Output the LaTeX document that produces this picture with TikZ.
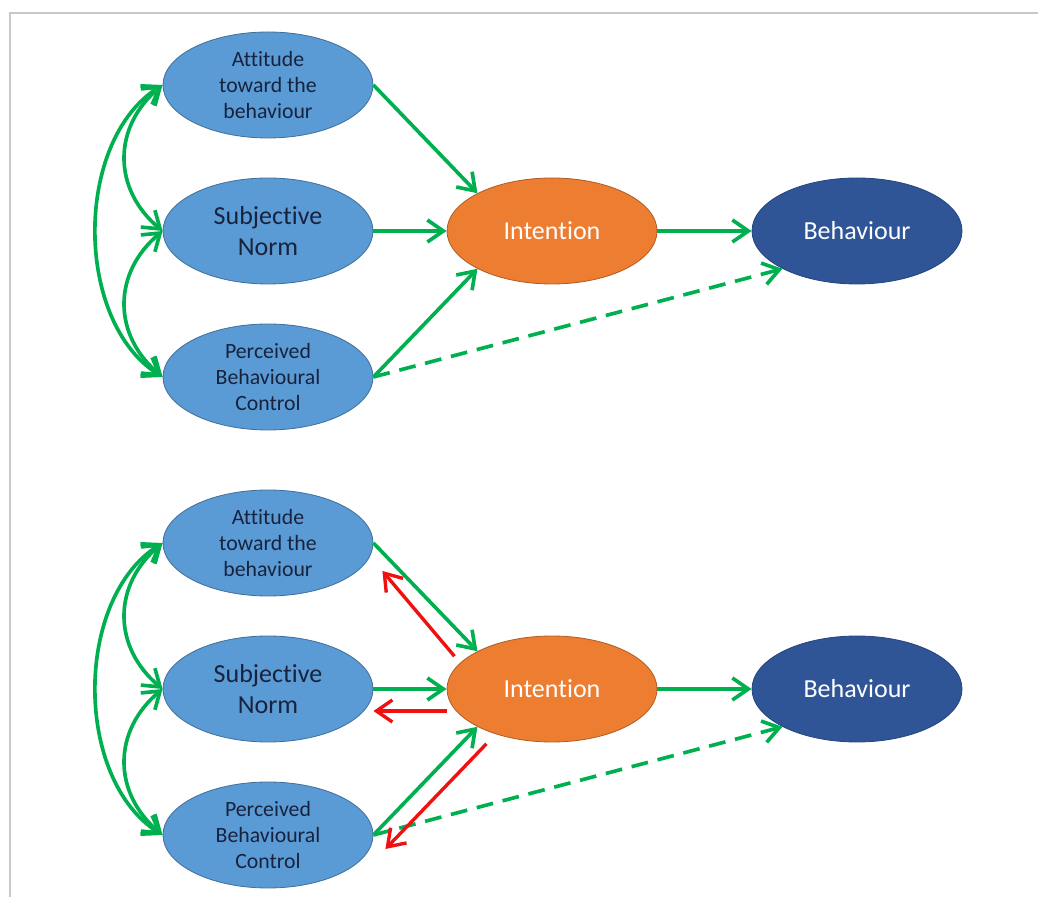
\documentclass[tikz,border=0pt]{standalone}
\usepackage{fontspec}
\setmainfont{Carlito}[Ligatures=CommonOff]
\usepackage{xcolor}
\usetikzlibrary{arrows.meta,shapes.geometric}

\definecolor{tpbblue}{HTML}{5B9BD5}
\definecolor{tpbblueline}{HTML}{41719C}
\definecolor{tpborange}{HTML}{ED7D31}
\definecolor{tpborangeline}{HTML}{B05F28}
\definecolor{tpbnavy}{HTML}{2F5597}
\definecolor{tpbnavyline}{HTML}{24467F}
\definecolor{tpbtext}{HTML}{17233D}
\definecolor{tpbgreen}{HTML}{00B050}
\definecolor{tpbred}{HTML}{F01010}
\definecolor{framegray}{HTML}{C8C8C8}

\begin{document}
\begin{tikzpicture}[
    bigtext/.style={font=\fontsize{18.5}{22.5}\selectfont},
    smalltext/.style={font=\fontsize{15.5}{18.5}\selectfont},
    oval/.style={ellipse, draw, line width=0.6pt, align=center, inner sep=0pt, minimum width=5.25cm, minimum height=2.65cm},
    construct/.style={oval, fill=tpbblue, draw=tpbblueline, text=tpbtext},
    intent/.style={oval, fill=tpborange, draw=tpborangeline, text=white, bigtext},
    behav/.style={oval, fill=tpbnavy, draw=tpbnavyline, text=white, bigtext},
    link/.style={-{Straight Barb[length=4mm,width=5.5mm]}, tpbgreen, line width=2.6pt},
    dashlink/.style={link, dash pattern=on 12pt off 7pt},
    corr/.style={{Straight Barb[length=4mm,width=5.5mm]}-{Straight Barb[length=4mm,width=5.5mm]}, tpbgreen, line width=2.6pt},
    back/.style={-{Straight Barb[length=4mm,width=5.5mm]}, tpbred, line width=2.4pt}
]
\useasboundingbox (0,0) rectangle (25.95,22.425);
\draw[framegray, line width=1.5pt] (0.25,0) -- (0.25,22.1) -- (25.95,22.1);

% first model
\node[construct, smalltext] (att1) at (6.7,20.3) {Attitude\\toward the\\behaviour};
\node[construct, bigtext] (sn1) at (6.7,16.65) {Subjective\\Norm};
\node[construct, smalltext] (pbc1) at (6.7,13.0) {Perceived\\Behavioural\\Control};
\node[intent] (int1) at (13.8,16.65) {Intention};
\node[behav] (beh1) at (21.425,16.65) {Behaviour};

\draw[corr] (att1.west) to[out=212,in=148,looseness=0.92] (pbc1.west);
\draw[corr] (att1.west) to[out=220,in=140,looseness=1.15] (sn1.west);
\draw[corr] (sn1.west) to[out=220,in=140,looseness=1.15] (pbc1.west);
\draw[link] (att1.east) -- (int1.north west);
\draw[link] (sn1.east) -- (int1.west);
\draw[link] (pbc1.east) -- (int1.south west);
\draw[link] (int1.east) -- (beh1.west);
\draw[dashlink] (pbc1.east) -- (beh1.south west);

% second model, with feedback
\node[construct, smalltext] (att2) at (6.7,8.85) {Attitude\\toward the\\behaviour};
\node[construct, bigtext] (sn2) at (6.7,5.2) {Subjective\\Norm};
\node[construct, smalltext] (pbc2) at (6.7,1.55) {Perceived\\Behavioural\\Control};
\node[intent] (int2) at (13.8,5.2) {Intention};
\node[behav] (beh2) at (21.425,5.2) {Behaviour};

\draw[corr] (att2.west) to[out=212,in=148,looseness=0.92] (pbc2.west);
\draw[corr] (att2.west) to[out=220,in=140,looseness=1.15] (sn2.west);
\draw[corr] (sn2.west) to[out=220,in=140,looseness=1.15] (pbc2.west);
\draw[link] (att2.east) -- (int2.north west);
\draw[link] (sn2.east) -- (int2.west);
\draw[link] (pbc2.east) -- (int2.south west);
\draw[link] (int2.east) -- (beh2.west);
\draw[dashlink] (pbc2.east) -- (beh2.south west);
\draw[back] ([shift={(-0.575,-0.125)}]int2.north west) -- ([shift={(0.225,-0.7)}]att2.east);
\draw[back] ([yshift=-0.55cm]int2.west) -- ([yshift=-0.55cm]sn2.east);
\draw[back] ([shift={(0.225,-0.425)}]int2.south west) -- ([shift={(0.3,-0.35)}]pbc2.east);

\end{tikzpicture}
\end{document}
